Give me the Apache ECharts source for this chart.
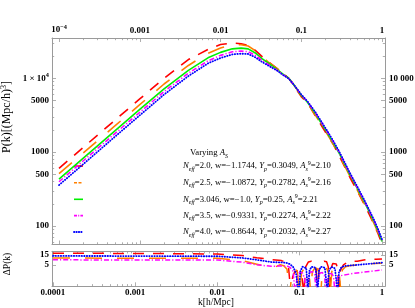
<!DOCTYPE html>
<html><head><meta charset="utf-8">
<script src="https://cdn.jsdelivr.net/npm/echarts@6/dist/echarts.min.js"></script>
<style>html,body{margin:0;padding:0;background:#fff}#c{width:415px;height:308px}</style>
</head><body><div id="c"></div>
<script>
// ---------- data ----------
const kTop = [0.0001,0.0002,0.0005,0.001,0.002,0.004,0.007,0.01,0.014,0.018,0.022,0.027,0.033,0.04,0.05,0.06,0.07,0.08,0.1,0.12,0.15,0.2,0.25,0.3,0.4,0.5,0.6,0.7,0.8,0.9,1.0];
const pRed     = [602,1160,2740,5240,9990,17900,24500,28600,30000,29300,27700,23800,19500,16400,13600,11600,10000,8110,5630,4650,3080,1860,1270,858,457,291,198,141,104,77.5,56.5];
const pOrange  = [512,979,2300,4390,8360,14900,21800,25700,28200,28400,27300,23600,19300,16200,13500,11500,10100,8300,5760,4620,3150,1900,1280,884,471,300,204,146,107,80,58.5];
const pGreen   = [431,830,1970,3780,7200,12800,18900,22400,25000,25600,25000,22000,18300,15700,13200,11300,10000,8300,5900,4700,3300,1990,1330,930,495,315,215,153,113,84,62];
const pMagenta = [397,764,1810,3460,6600,11700,17200,20400,22800,23300,22900,20400,17300,15100,12900,11100,9930,8300,5970,4760,3380,2050,1370,956,509,324,221,157,116,86,64];
const pBlue    = [358,689,1640,3150,6020,10700,15900,18800,21000,21500,21300,19200,16500,14600,12700,11000,9890,8300,6040,4830,3460,2110,1410,985,524,334,228,162,120,89,66];

const dRed = [[0.0001,18.1],[0.0003,18.1],[0.001,17.8],[0.003,17.4],[0.01,16.7],[0.02,14.0],[0.03,11.0],[0.045,9.0],[0.06,8.0],[0.068,6.5],[0.073,4.0],[0.078,0.2],
  [0.082,1.3],[0.087,2.3],[0.094,2.5],[0.101,2.2],[0.107,1.2],[0.112,0.2],
  [0.118,4.0],[0.127,6.8],[0.138,7.5],[0.15,7.0],[0.158,4.0],[0.165,0.2],
  [0.173,4.0],[0.185,6.8],[0.198,7.5],[0.212,7.0],[0.222,4.0],[0.232,0.2],
  [0.241,3.5],[0.252,5.8],[0.265,6.3],[0.278,5.5],[0.29,3.0],[0.3,0.2],
  [0.31,2.5],[0.34,5.0],[0.4,7.5],[0.5,7.5],[0.6,8.5],[0.7,9.4],[0.85,9.4],[1.0,9.6]];
const dOrange = [[0.0001,10.6],[0.001,10.5],[0.01,10.4],[0.02,8.0],[0.031,5.2],[0.041,3.9],[0.047,3.6],[0.053,4.3],[0.058,5.0],[0.064,4.5],[0.07,3.0],[0.076,0.2],
  [0.08,2.0],[0.086,3.0],[0.093,2.6],[0.1,0.2],
  [0.105,2.0],[0.113,3.3],[0.122,3.3],[0.13,2.0],[0.136,0.2],
  [0.142,2.2],[0.152,3.4],[0.163,3.3],[0.172,2.0],[0.18,0.2],
  [0.188,2.2],[0.2,3.4],[0.214,3.2],[0.226,1.8],[0.235,0.2],
  [0.245,2.3],[0.262,3.5],[0.28,3.5],[0.3,2.5],[0.315,0.3],
  [0.33,2.8],[0.36,4.0],[0.4,4.5],[0.5,4.9],[0.6,5.3],[0.8,5.8],[1.0,6.0]];
const dMagenta = [[0.0001,8.7],[0.001,8.6],[0.01,8.5],[0.02,6.7],[0.03,5.0],[0.045,4.2],[0.06,4.4],[0.07,4.4],[0.077,3.6],[0.083,2.4],[0.088,0.2],
  [0.093,1.3],[0.1,2.2],[0.108,2.0],[0.115,1.0],[0.12,0.15],
  [0.126,1.3],[0.134,2.2],[0.143,2.3],[0.152,1.6],[0.16,0.15],
  [0.167,1.2],[0.177,2.0],[0.188,2.1],[0.2,1.5],[0.21,0.15],
  [0.218,1.1],[0.23,1.8],[0.244,1.9],[0.258,1.3],[0.27,0.15],
  [0.28,0.9],[0.3,1.4],[0.35,1.6],[0.45,1.9],[0.6,2.2],[0.8,2.5],[1.0,2.8]];
const dBlue = [[0.0001,13.5],[0.001,13.3],[0.01,13.0],[0.02,10.8],[0.03,8.7],[0.045,6.8],[0.06,6.5],[0.068,6.3],[0.075,5.5],[0.083,4.0],[0.09,2.0],[0.097,0.2],
  [0.102,2.5],[0.108,4.0],[0.114,4.3],[0.12,3.5],[0.126,0.2],
  [0.131,2.5],[0.139,4.0],[0.147,4.3],[0.156,3.6],[0.165,0.2],
  [0.171,2.5],[0.18,4.0],[0.19,4.3],[0.202,3.6],[0.218,0.2],
  [0.226,2.4],[0.238,3.7],[0.252,3.9],[0.268,3.3],[0.29,0.2],
  [0.3,2.2],[0.32,3.8],[0.35,4.3],[0.4,4.6],[0.47,4.8],[0.6,5.3],[0.75,5.7],[1.0,6.3]];

const kMajor = [0.0001,0.001,0.01,0.1,1];
const kMinor = [0.0002,0.0003,0.0004,0.0005,0.0006,0.0007,0.0008,0.0009,0.002,0.003,0.004,0.005,0.006,0.007,0.008,0.009,0.02,0.03,0.04,0.05,0.06,0.07,0.08,0.09,0.2,0.3,0.4,0.5,0.6,0.7,0.8,0.9];
const kTopLabels = ['{b|10}{s|−4}','0.001','0.01','0.1','1'];
const kBotLabels = ['0.0001','0.001','0.01','0.1','1'];
const pMajor = [100,500,1000,5000,10000];
const pMinor = [60,70,80,90,200,300,400,600,700,800,900,2000,3000,4000,6000,7000,8000,9000,20000,30000];
const pLeftLabels = ['100','500','1000','5000','{b|1 × 10}{s|4}'];
const pRightLabels = ['100','500','1000','5000','10 000'];
const dMajor = [5,15];
const dLabels = ['5','15'];

const legendTexts = [
  '{i|N}{sb|eff}{n|=2.0, w=−1.1744, }{i|Y}{sb|p}{n|=0.3049, }{i|A}{sb|s}{sp|9}{n|=2.10}',
  '{i|N}{sb|eff}{n|=2.5, w=−1.0872, }{i|Y}{sb|p}{n|=0.2782, }{i|A}{sb|s}{sp|9}{n|=2.16}',
  '{i|N}{sb|eff}{n|=3.046, w=−1.0, }{i|Y}{sb|p}{n|=0.25, }{i|A}{sb|s}{sp|9}{n|=2.21}',
  '{i|N}{sb|eff}{n|=3.5, w=−0.9331, }{i|Y}{sb|p}{n|=0.2274, }{i|A}{sb|s}{sp|9}{n|=2.22}',
  '{i|N}{sb|eff}{n|=4.0, w=−0.8644, }{i|Y}{sb|p}{n|=0.2032, }{i|A}{sb|s}{sp|9}{n|=2.27}'
];

// ---------- styling ----------
const FONT = 'Liberation Serif';
const GRAY = '#9a9a9a';
const COLORS = ['#ff0000','#ff8000','#00ee00','#ff00ff','#0000ff'];
const DASH = [[11,9],[17,15],'solid',[5,2,1.2,2],[0.4,2.2]];
const RICH = {
  b:{fontFamily:FONT,fontSize:9,fontWeight:'bold',color:'#000',lineHeight:11,verticalAlign:'middle'},
  s:{fontFamily:FONT,fontSize:6.3,fontWeight:'bold',color:'#000',lineHeight:11,verticalAlign:'top'}
};
function lab(vals, texts){
  return v => { for (let i=0;i<vals.length;i++){ if (Math.abs(Math.log10(v/vals[i]))<0.005) return texts[i]; } return ''; };
}
function ax(grid, pos, min, max, o){
  return {
    type:'log', logBase:10, gridIndex:grid, position:pos, min:min, max:max,
    axisLine:{show:!!o.line, onZero:false, lineStyle:{color:GRAY,width:1}},
    axisTick:{show:true, inside:true, length:o.len, customValues:o.ticks, lineStyle:{color:GRAY,width:0.8}},
    axisLabel: o.labels ? {show:true, customValues:o.ticks, formatter:lab(o.ticks,o.labels), margin:o.margin,
       fontFamily:FONT, fontSize:9, fontWeight:'bold', color:'#000', rich:RICH} : {show:false},
    splitLine:{show:false}, minorTick:{show:false}, minorSplitLine:{show:false}, silent:true
  };
}
const xTmin = 8.19e-5, xTmax = 1.089, xBmin = 9.73e-5, xBmax = 1.088;
const yTmin = 56.2, yTmax = 35050, yBmin = 0.446, yBmax = 22.7;

const xAxis = [
  ax(0,'bottom',xTmin,xTmax,{line:true,len:4,ticks:kMajor}),
  ax(0,'top',xTmin,xTmax,{line:true,len:4,ticks:kMajor,labels:kTopLabels,margin:3}),
  ax(0,'bottom',xTmin,xTmax,{len:2.2,ticks:kMinor}),
  ax(0,'top',xTmin,xTmax,{len:2.2,ticks:kMinor}),
  ax(1,'bottom',xBmin,xBmax,{line:true,len:4,ticks:kMajor,labels:kBotLabels,margin:2}),
  ax(1,'top',xBmin,xBmax,{line:true,len:4,ticks:kMajor}),
  ax(1,'bottom',xBmin,xBmax,{len:2.2,ticks:kMinor}),
  ax(1,'top',xBmin,xBmax,{len:2.2,ticks:kMinor})
];
const yAxis = [
  ax(0,'left',yTmin,yTmax,{line:true,len:4,ticks:pMajor,labels:pLeftLabels,margin:3}),
  ax(0,'right',yTmin,yTmax,{line:true,len:4,ticks:pMajor,labels:pRightLabels,margin:4}),
  ax(0,'left',yTmin,yTmax,{len:2.2,ticks:pMinor}),
  ax(0,'right',yTmin,yTmax,{len:2.2,ticks:pMinor}),
  ax(1,'left',yBmin,yBmax,{line:true,len:4,ticks:dMajor,labels:dLabels,margin:3}),
  ax(1,'right',yBmin,yBmax,{line:true,len:4,ticks:dMajor,labels:dLabels,margin:4})
];

const topVals = [pRed,pOrange,pGreen,pMagenta,pBlue];
const series = [];
topVals.forEach((vals,si)=>{
  series.push({type:'line', xAxisIndex:0, yAxisIndex:0, symbol:'none', showSymbol:false, silent:true,
    data:kTop.map((k,i)=>[k,vals[i]]),
    lineStyle:{color:COLORS[si], width: si===4?1.8:1.6, type:DASH[si], cap: si===4?'round':'butt'}, z:2+si});
});
const botVals = [[dRed,0],[dOrange,1],[dMagenta,3],[dBlue,4]];
botVals.forEach(([vals,ci],j)=>{
  series.push({type:'line', xAxisIndex:4, yAxisIndex:4, symbol:'none', showSymbol:false, silent:true,
    data:vals, clip:true,
    lineStyle:{color:COLORS[ci], width: ci===4?1.8:1.5, type:DASH[ci], cap: ci===4?'round':'butt'}, z:2+j});
});

const legY = [166,182.7,199.3,215.6,232];
const graphic = [];
const LR = {
  n:{fontFamily:FONT,fontSize:8.7,fill:'#000',lineHeight:12,verticalAlign:'middle'},
  i:{fontFamily:FONT,fontSize:8.7,fontStyle:'italic',fill:'#000',lineHeight:12,verticalAlign:'middle'},
  sb:{fontFamily:FONT,fontSize:6,fontStyle:'italic',fill:'#000',lineHeight:12,verticalAlign:'bottom'},
  sp:{fontFamily:FONT,fontSize:6,fill:'#000',lineHeight:12,verticalAlign:'top'}
};
graphic.push({type:'text', x:190, y:153, silent:true, style:{text:'{n|Varying }{i|A}{sb|S}', rich:LR, verticalAlign:'middle', align:'left'}});
legendTexts.forEach((t,i)=>{
  graphic.push({type:'text', x:183, y:legY[i], silent:true, style:{text:t, rich:LR, verticalAlign:'middle', align:'left'}});
  graphic.push({type:'line', silent:true, shape:{x1:74,y1:legY[i],x2:83,y2:legY[i]},
    style:{stroke:COLORS[i], lineWidth: i===4?1.8:1.6, lineDash: i===0?null:(i===1?[3,1.5]:(i===2?null:(i===3?[3,1.2,1,1.2]:[0.4,2]))), lineCap: i===4?'round':'butt'}});
});
graphic.push({type:'text', x:7, y:117, rotation:Math.PI/2, silent:true,
  style:{text:'{t|P(k)[(Mpc/h)}{u|3}{t|]}', align:'center', verticalAlign:'middle',
    rich:{t:{fontFamily:FONT,fontSize:12,fill:'#000',lineHeight:14,verticalAlign:'middle'},u:{fontFamily:FONT,fontSize:8,fill:'#000',lineHeight:14,verticalAlign:'top'}}}});
graphic.push({type:'text', x:7, y:264, rotation:Math.PI/2, silent:true,
  style:{text:'ΔP(k)', align:'center', verticalAlign:'middle', font:'9.5px "Liberation Serif"', fill:'#000'}});
graphic.push({type:'text', x:216, y:302, silent:true,
  style:{text:'k[h/Mpc]', align:'center', verticalAlign:'middle', font:'9.5px "Liberation Serif"', fill:'#000'}});

const chart = echarts.init(document.getElementById('c'), null, {renderer:'canvas'});
chart.setOption({
  animation:false,
  backgroundColor:'#fff',
  grid:[
    {left:52, right:30, top:38, height:206.5, outerBoundsMode:'none', containLabel:false},
    {left:52, right:30, top:251.3, height:35, outerBoundsMode:'none', containLabel:false}
  ],
  xAxis:xAxis, yAxis:yAxis, series:series, graphic:graphic
});
</script></body></html>
